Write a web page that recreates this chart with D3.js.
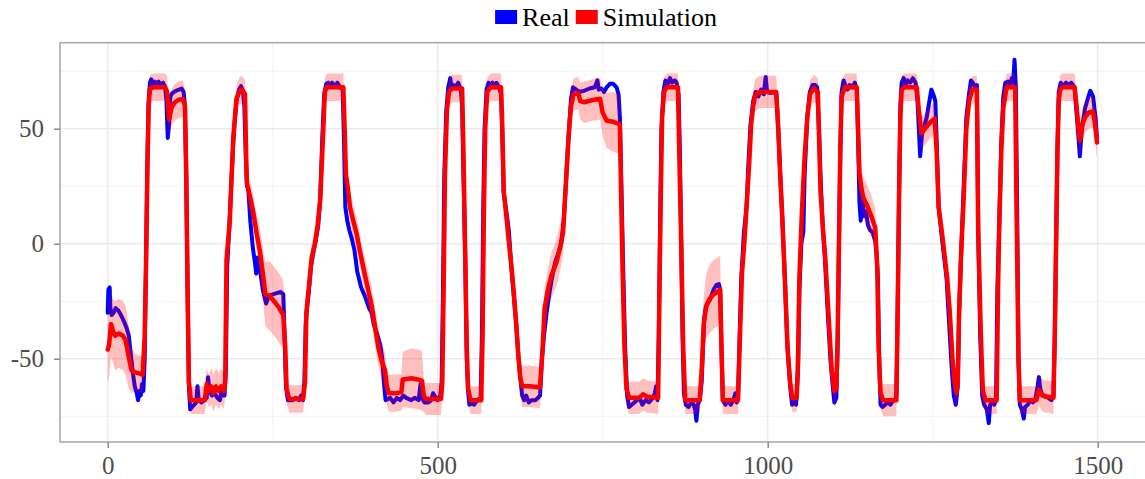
<!DOCTYPE html>
<html>
<head>
<meta charset="utf-8">
<script src="https://cdn.jsdelivr.net/npm/d3@7"></script>
<style>
  html, body { margin: 0; padding: 0; background: #fff; }
  svg { display: block; }
  text { font-family: "Liberation Serif", "Times New Roman", serif; }
</style>
</head>
<body>
<svg id="chart" width="1145" height="479"></svg>
<script>
// Measured trajectory: [time, value]
const realSeries = [
  [0,-30],[1,-20],[3,-19],[4,-28],[6,-31],[9,-30],[12,-28],[16,-29],[20,-31],[25,-34],[29,-37],[32,-40],
  [35,-48],[38,-56],[41,-62],[44,-65],[46,-68],[48,-64],[50,-66],[52,-61],[54,-64],[56,-50],[58,-10],
  [60,35],[62,62],[64,70],[66,71.5],[68,69.5],[71,70.5],[74,69.5],[77,70.5],[80,69],[84,70],[87,68],
  [89,62],[91,46],[93,52],[95,64],[98,65.5],[103,66.5],[108,67],[112,67.5],[115,66],[117,60],[119,30],
  [121,-20],[123,-62],[125,-72],[128,-71],[131,-70],[134,-69],[136,-62],[138,-68],[142,-69],[146,-68],
  [150,-67],[152,-58],[154,-64],[158,-66],[162,-65],[166,-67],[170,-68],[172,-64],[174,-66],[177,-66],
  [179,-55],[181,-10],[184,6],[187,25],[191,48],[195,62],[199,67],[202,68.5],[205,66],[207,60],[209,40],
  [211,25],[213,24],[216,10],[220,-2],[223,-8],[225,-13],[227,-6],[231,-12],[235,-20],[240,-26],[244,-23],
  [250,-22],[256,-21.5],[262,-21],[266,-22],[268,-40],[270,-62],[273,-68],[280,-68],[285,-67],[290,-68],
  [293,-66],[296,-68],[298,-60],[300,-35],[302,-28],[305,-20],[308,-10],[312,-3],[315,1],[319,8],[322,20],
  [325,45],[328,65],[331,69.5],[334,70],[337,68.5],[340,70],[344,68.5],[348,70],[352,68],[356,67],[358,45],
  [360,16],[363,10],[366,6],[370,2],[374,-3],[378,-12],[384,-19],[390,-23],[396,-28],[400,-30],[403,-35],
  [408,-39],[413,-44],[416,-50],[419,-62],[421,-68],[428,-67],[433,-69],[438,-67],[443,-68],[448,-66],
  [452,-67],[460,-68],[465,-67],[471,-68],[474,-61],[476,-67],[480,-69],[486,-69],[490,-68],[493,-65],
  [495,-66],[500,-68],[504,-66],[506,-60],[508,-20],[510,30],[513,58],[516,68],[519,72],[521,68],[524,69],
  [527,68],[531,70],[535,67],[537,60],[539,30],[542,-10],[544,-50],[546,-64],[548,-70],[552,-69],[555,-70],
  [560,-68],[565,-67],[567,-40],[569,15],[571,50],[574,67],[577,70],[580,68.5],[583,70],[586,68],[589,70],
  [593,68],[596,65],[598,45],[600,22],[602,18],[605,12],[608,5],[611,-8],[615,-22],[619,-35],[622,-48],
  [625,-58],[628,-66],[631,-68],[634,-66],[638,-69],[642,-68],[648,-68],[652,-67],[655,-66],[658,-50],
  [661,-40],[665,-30],[669,-22],[673,-15],[678,-8],[683,-4],[687,0],[691,10],[695,30],[699,50],[702,63],
  [705,68],[710,67],[715,66],[722,66.5],[730,67.5],[738,68],[742,71],[744,67],[748,67.5],[752,66],[756,68],
  [761,69.5],[766,69.5],[771,68],[774,65],[776,55],[778,30],[781,-10],[784,-45],[787,-66],[790,-71],
  [794,-70],[798,-69],[802,-68],[806,-67],[810,-70],[815,-68],[820,-69],[826,-67],[829,-65],[831,-62],
  [833,-68],[835,-40],[837,10],[839,50],[842,66],[845,71],[848,69],[852,72],[855,70],[859,71],[862,70],
  [865,65],[867,40],[869,0],[871,-40],[873,-65],[876,-70],[880,-71],[884,-69],[888,-70],[890,-72],[892,-77],
  [894,-70],[897,-68],[900,-60],[902,-45],[904,-32],[906,-28],[909,-26],[913,-24],[918,-20],[922,-18],
  [926,-17.5],[928,-20],[930,-45],[932,-68],[936,-70],[940,-68],[944,-70],[948,-68],[951,-65],[953,-69],
  [955,-67],[957,-45],[960,-15],[964,5],[968,16],[971,36],[974,52],[978,62],[982,66],[986,64],[990,67],
  [994,65],[997,72.5],[999,66],[1004,65.5],[1008,66],[1013,65],[1016,50],[1019,30],[1022,12],[1026,-15],
  [1030,-45],[1034,-62],[1037,-70],[1040,-69],[1043,-70],[1046,-55],[1048,-20],[1051,0],[1054,5],[1056,30],
  [1060,55],[1064,66],[1068,69],[1072,69],[1075,68],[1078,47],[1080,30],[1083,10],[1087,-8],[1091,-30],
  [1095,-50],[1098,-60],[1101,-69],[1104,-67],[1106,-45],[1108,0],[1110,40],[1112,66],[1115,71],[1118,68.5],
  [1121,67],[1124,69],[1128,68],[1132,70],[1135,67],[1137,45],[1139,18],[1141,10],[1143,21],[1146,12],
  [1149,14],[1152,8],[1155,6],[1159,5],[1163,1],[1165,-5],[1167,-15],[1169,-50],[1171,-70],[1174,-71],
  [1178,-70],[1182,-69],[1186,-70],[1190,-68],[1193,-68],[1195,-66],[1197,-25],[1199,20],[1201,60],
  [1203,70],[1206,72],[1209,69],[1212,71],[1216,70],[1220,72],[1224,70],[1227,62],[1229,50],[1231,38],
  [1234,48],[1238,52],[1241,55],[1245,62],[1248,67],[1251,65],[1254,62],[1256,45],[1259,16],[1263,5],
  [1267,-5],[1271,-15],[1275,-35],[1279,-55],[1282,-66],[1285,-70],[1288,-62],[1290,-30],[1293,-5],
  [1297,25],[1301,55],[1305,65],[1308,71],[1311,70],[1314,68],[1317,69],[1319,5],[1322,-40],[1325,-66],
  [1328,-70],[1332,-72],[1335,-78],[1337,-70],[1340,-69],[1343,-70],[1346,-68],[1348,-20],[1351,10],
  [1354,45],[1357,64],[1360,70],[1364,70.5],[1367,69],[1370,72],[1372,70],[1374,80],[1376,68],[1378,16],
  [1380,-50],[1382,-70],[1385,-72],[1388,-76],[1390,-71],[1394,-70],[1398,-68],[1402,-69],[1406,-67],
  [1409,-62],[1411,-58],[1413,-63],[1416,-66],[1420,-66],[1425,-67],[1430,-68],[1433,-66],[1435,-40],
  [1437,0],[1439,40],[1441,66],[1444,70],[1448,68.5],[1452,70],[1456,69],[1460,70],[1465,68],[1467,60],
  [1470,50],[1473,38],[1476,50],[1481,59],[1486,64],[1489,66.5],[1493,64],[1497,54],[1499,46]
];

// Simulated trajectory: [time, value, spread of the band around it]
const simSeries = [
  [0,-46,14],[2,-44,14],[5,-35,14],[8,-38,14],[11,-40,15],[17,-39,15],[23,-40,15],[27,-42,15],[31,-48,14],
  [36,-55,10],[42,-56,8],[49,-56.5,8],[53,-57,8],[56,-40,6],[58,-10,5],[60,30,5],[62,60,5],[64,67.5,6],
  [70,68,6],[87,68,6],[90,66,7],[93,54,8],[97,59.5,8],[102,61.5,8],[107,62.5,8],[114,63,8],[117,60,7],
  [119,30,5],[121,-20,5],[123,-60,6],[126,-68,6],[147,-68,6],[150,-61,7],[153,-64,7],[157,-62,8],
  [160,-65,8],[164,-62,8],[168,-64,8],[172,-62,8],[176,-64,8],[178,-60,6],[180,-7,6],[185,10,6],[190,45,6],
  [195,63,6],[200,66.5,6],[204,67,6],[208,65,6],[210,35,6],[211,26,6],[216,20,7],[221,13,7],[226,4,8],
  [231,-4,10],[236,-15,12],[239,-22,14],[245,-22.5,15],[252,-25,15],[260,-28,15],[266,-31,15],[269,-45,8],
  [271,-63,6],[275,-67.5,6],[296,-67.5,6],[299,-60,6],[301,-30,6],[305,-18,6],[309,-6,6],[314,0,6],
  [318,8,6],[322,19,6],[326,45,6],[329,66,6],[332,68,6],[357,68,6],[359,50,6],[361,30,7],[364,24,7],
  [367,16,7],[372,10,7],[377,4.5,7],[382,-3,7],[387,-10,7],[393,-18,8],[400,-27,8],[405,-36,8],[410,-45,8],
  [415,-51,8],[420,-55,8],[423,-62,8],[426,-65,8],[436,-65,8],[445,-64.5,8],[447,-59,12],[460,-58.5,13],
  [470,-59,13],[476,-59.5,13],[479,-66,7],[482,-67.5,7],[505,-67.5,7],[507,-60,6],[509,-20,6],[511,30,6],
  [514,58,6],[517,66,6],[522,67.5,6],[537,67.5,6],[539,40,6],[542,-10,6],[544,-45,6],[546,-63,6],
  [550,-68,6],[566,-68,6],[568,-40,6],[570,15,6],[572,50,6],[575,66,6],[580,68,6],[596,68,6],[598,50,6],
  [600,23,6],[604,12,6],[607,3,6],[611,-8,6],[615,-20,7],[619,-35,7],[622,-48,8],[625,-58,8],[628,-62,9],
  [640,-62,9],[655,-62.5,9],[659,-45,9],[662,-28,9],[667,-20,9],[672,-14,10],[680,-8,10],[686,-1,10],
  [690,5,9],[694,25,8],[698,45,8],[702,60,7],[706,65,7],[713,65.5,7],[716,62,8],[722,61.5,9],[735,62.5,9],
  [746,63,9],[750,57,10],[756,53.5,12],[766,53,13],[776,52,13],[778,20,8],[780,-10,7],[783,-45,7],
  [786,-63,7],[790,-67,7],[805,-67,7],[811,-65.5,7],[818,-66.5,7],[834,-67,7],[836,-20,6],[838,20,6],
  [840,55,6],[843,66,6],[847,68,6],[864,68,6],[866,40,6],[869,0,6],[872,-45,6],[875,-68,6],[897,-68,6],
  [900,-55,8],[903,-35,12],[907,-27,14],[912,-24,15],[918,-22,15],[924,-21,15],[928,-20,15],[930,-45,7],
  [932,-68,6],[955,-68,6],[958,-40,6],[961,-13,6],[965,2,7],[968,16,7],[972,35,7],[975,52,7],[978,60,7],
  [981,64.5,7],[988,66,7],[1000,66,7],[1013,66,7],[1016,50,6],[1019,30,6],[1022,12,6],[1026,-15,6],
  [1030,-45,6],[1034,-60,6],[1037,-67,6],[1044,-67,6],[1046,-50,6],[1048,-15,6],[1052,15,6],[1056,38,6],
  [1060,55,6],[1064,65,6],[1070,67.5,6],[1076,66,6],[1078,45,6],[1080,23,6],[1084,5,6],[1087,-5,6],
  [1090,-20,6],[1093,-35,6],[1097,-55,6],[1101,-64,7],[1104,-63,7],[1106,-40,6],[1108,0,6],[1110,40,6],
  [1112,64,6],[1117,68,6],[1135,68,6],[1137,50,7],[1139,31,9],[1142,24,9],[1145,20,9],[1150,17,9],
  [1157,12,9],[1163,7,8],[1166,-10,7],[1168,-45,7],[1171,-65,7],[1175,-68,7],[1195,-68,7],[1197,-30,6],
  [1199,20,6],[1201,55,6],[1203,67,6],[1207,68,6],[1226,68,6],[1229,58,7],[1233,48,7],[1237,49.5,7],
  [1241,51,7],[1247,53,7],[1253,54.5,7],[1256,40,6],[1259,16,6],[1264,5,6],[1268,-5,6],[1272,-15,6],
  [1276,-30,6],[1280,-50,6],[1283,-60,7],[1286,-65,7],[1288,-60,7],[1290,-30,6],[1293,-5,6],[1297,20,6],
  [1301,50,6],[1305,62,6],[1310,67,6],[1317,67,6],[1319,5,6],[1323,-40,6],[1326,-64,6],[1330,-68,6],
  [1347,-68,6],[1349,-20,6],[1351,10,6],[1354,40,6],[1357,59,6],[1362,68,6],[1375,68,6],[1377,16,6],
  [1380,-50,6],[1382,-68,6],[1407,-68,6],[1411,-63.5,7],[1415,-65.5,7],[1420,-66.5,7],[1425,-66.5,7],
  [1433,-67,7],[1435,-40,6],[1437,0,6],[1439,40,6],[1441,62,6],[1443,67,6],[1447,68,6],[1465,68,6],
  [1468,60,6],[1471,50,7],[1473,45,7],[1477,52,7],[1481,55,7],[1486,57,7],[1493,57.5,7],[1496,52,7],
  [1499,44,7]
];

const xTicks = [0, 500, 1000, 1500];
const xMinor = [250, 750, 1250];
const yTicks = [-50, 0, 50];
const yMinor = [-75, -25, 25, 75];
const legendItems = [
  { label: "Real", color: "#0000ff" },
  { label: "Simulation", color: "#ff0000" }
];

const svg = d3.select("#chart");
const panel = { left: 60, top: 42.7, right: 1145, bottom: 442 };

const x = d3.scaleLinear().domain([-72.3, 1571.7]).range([panel.left, panel.right]);
const y = d3.scaleLinear().domain([-86.2, 87.4]).range([panel.bottom, panel.top]);

svg.append("defs").append("clipPath").attr("id", "panel-clip")
  .append("rect")
  .attr("x", panel.left).attr("y", panel.top)
  .attr("width", panel.right - panel.left).attr("height", panel.bottom - panel.top);

// grid
const grid = svg.append("g");
grid.selectAll(".gx-minor").data(xMinor).join("line")
  .attr("x1", d => x(d)).attr("x2", d => x(d))
  .attr("y1", panel.top).attr("y2", panel.bottom)
  .attr("stroke", "#f2f2f2").attr("stroke-width", 1);
grid.selectAll(".gy-minor").data(yMinor).join("line")
  .attr("y1", d => y(d)).attr("y2", d => y(d))
  .attr("x1", panel.left).attr("x2", panel.right)
  .attr("stroke", "#f2f2f2").attr("stroke-width", 1);
grid.selectAll(".gx-major").data(xTicks).join("line")
  .attr("x1", d => x(d)).attr("x2", d => x(d))
  .attr("y1", panel.top).attr("y2", panel.bottom)
  .attr("stroke", "#ebebeb").attr("stroke-width", 1.5);
grid.selectAll(".gy-major").data(yTicks).join("line")
  .attr("y1", d => y(d)).attr("y2", d => y(d))
  .attr("x1", panel.left).attr("x2", panel.right)
  .attr("stroke", "#ebebeb").attr("stroke-width", 1.5);

// data layers: measured line, simulation band, simulation line
const plot = svg.append("g").attr("clip-path", "url(#panel-clip)");

const realLine = d3.line().x(d => x(d[0])).y(d => y(d[1]));
const simLine = d3.line().x(d => x(d[0])).y(d => y(d[1]));
const simArea = d3.area()
  .x(d => x(d[0]))
  .y0(d => y(d[1] - d[2]))
  .y1(d => y(d[1] + d[2]));

plot.append("path").datum(realSeries)
  .attr("d", realLine)
  .attr("fill", "none").attr("stroke", "#0000ff")
  .attr("stroke-width", 4).attr("stroke-linejoin", "round").attr("stroke-linecap", "round");

plot.append("path").datum(simSeries)
  .attr("d", simArea)
  .attr("fill", "#ff0000").attr("fill-opacity", 0.25);

plot.append("path").datum(simSeries)
  .attr("d", simLine)
  .attr("fill", "none").attr("stroke", "#ff0000")
  .attr("stroke-width", 4.5).attr("stroke-linejoin", "round").attr("stroke-linecap", "round");

// panel border
svg.append("rect")
  .attr("x", panel.left).attr("y", panel.top)
  .attr("width", panel.right - panel.left + 10).attr("height", panel.bottom - panel.top)
  .attr("fill", "none").attr("stroke", "#a6a6a6").attr("stroke-width", 1.5);

// axes
const xAxis = d3.axisBottom(x).tickValues(xTicks).tickSize(6).tickPadding(5)
  .tickFormat(d => String(d));
const yAxis = d3.axisLeft(y).tickValues(yTicks).tickSize(6).tickPadding(10)
  .tickFormat(d => String(d));

const gx = svg.append("g").attr("transform", `translate(0,${panel.bottom})`).call(xAxis);
const gy = svg.append("g").attr("transform", `translate(${panel.left},0)`).call(yAxis);

[gx, gy].forEach(g => {
  g.select(".domain").remove();
  g.selectAll(".tick line").attr("stroke", "#8c8c8c").attr("stroke-width", 1.5);
  g.selectAll(".tick text")
    .attr("fill", "#4d4d4d")
    .style("font-family", '"Liberation Serif", "Times New Roman", serif')
    .style("font-size", "25px");
});
gx.selectAll(".tick text").attr("dy", "0.85em");

// legend, laid out left to right and centred above the panel
const legend = svg.append("g");
let cursor = 0;
legendItems.forEach(item => {
  legend.append("rect")
    .attr("x", cursor).attr("y", 10)
    .attr("width", 22).attr("height", 14)
    .attr("fill", item.color);
  const t = legend.append("text")
    .attr("x", cursor + 27).attr("y", 26)
    .attr("fill", "#000")
    .style("font-size", "26px")
    .text(item.label);
  cursor += 27 + t.node().getComputedTextLength() + 6;
});
const lw = cursor - 6;
legend.attr("transform", `translate(${606 - lw / 2},0)`);
</script>
</body>
</html>
